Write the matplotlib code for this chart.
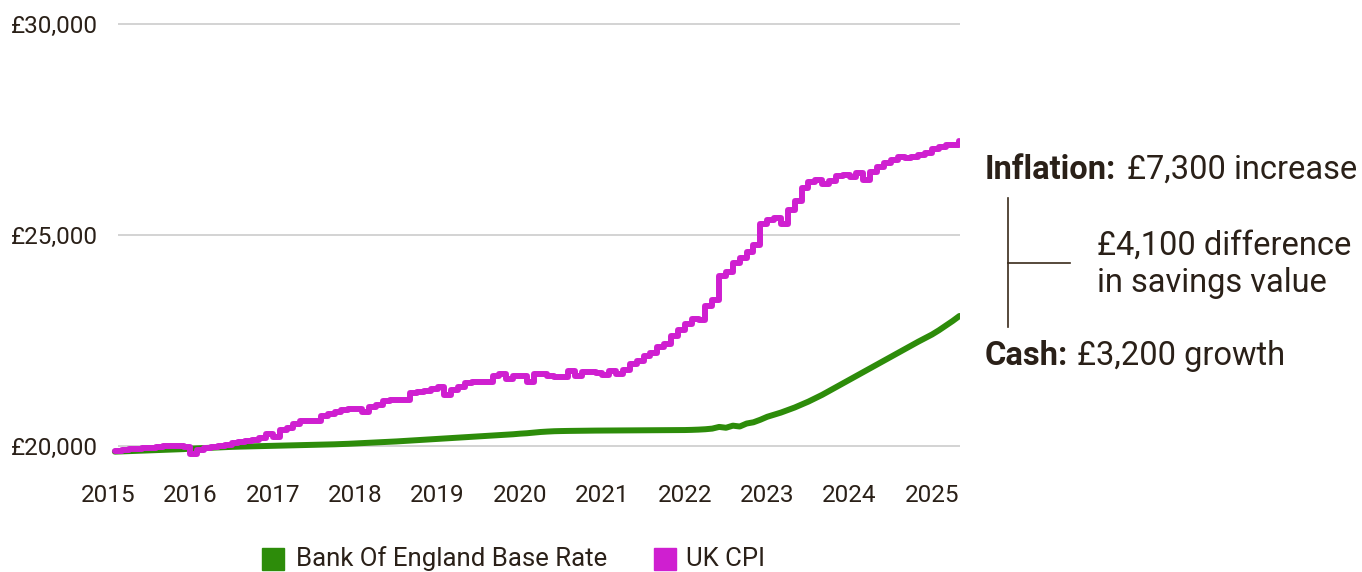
import matplotlib.pyplot as plt
from matplotlib.patches import Rectangle

plt.rcParams["font.family"] = ["Roboto", "DejaVu Sans"]

# monthly values, Feb 2015 .. May 2025
start_year = 2015
start_month = 2

cpi = [
    19880, 19905, 19929, 19929, 19953, 19953, 19976, 20000, 20000, 20000, 19976,
    19810, 19905, 19953, 19976, 20000, 20024, 20071, 20095, 20118, 20142, 20190, 20284,
    20213, 20379, 20427, 20521, 20592, 20592, 20592, 20711, 20758, 20806, 20853, 20877,
    20877, 20800, 20924, 20972, 21066, 21090, 21090, 21090, 21256, 21280, 21304, 21351,
    21398, 21209, 21327, 21398, 21493, 21517, 21517, 21517, 21659, 21706, 21588, 21659,
    21659, 21517, 21706, 21706, 21659, 21635, 21635, 21778, 21659, 21754, 21754, 21730,
    21683, 21778, 21706, 21801, 21943, 22015, 22133, 22204, 22346, 22417, 22607, 22749,
    22891, 23010, 22986, 23318, 23460, 24029, 24124, 24337, 24455, 24597, 24763, 25261,
    25356, 25403, 25261, 25593, 25806, 26114, 26256, 26304, 26209, 26280, 26399, 26422,
    26375, 26470, 26304, 26494, 26612, 26707, 26778, 26849, 26825, 26849, 26896, 26944,
    27039, 27086, 27133, 27133, 27228,
]

base_rate = [
    19864, 19870, 19876, 19882, 19888, 19894, 19900, 19906, 19912, 19918, 19924,
    19935, 19942, 19949, 19956, 19963, 19970, 19977, 19982, 19986, 19990, 19994, 19998,
    20002, 20006, 20010, 20014, 20018, 20022, 20026, 20030, 20034, 20038, 20044, 20050,
    20058, 20066, 20074, 20082, 20090, 20098, 20106, 20116, 20126, 20136, 20146, 20156,
    20166, 20176, 20186, 20196, 20206, 20216, 20226, 20236, 20246, 20256, 20266, 20276,
    20290, 20300, 20315, 20330, 20340, 20348, 20352, 20355, 20357, 20359, 20361, 20363,
    20364, 20365, 20366, 20367, 20368, 20369, 20370, 20371, 20372, 20373, 20374, 20375,
    20376, 20380, 20386, 20395, 20410, 20450, 20430, 20480, 20460, 20530, 20560, 20620,
    20690, 20740, 20790, 20850, 20910, 20980, 21050, 21130, 21210, 21300, 21390, 21480,
    21570, 21660, 21750, 21840, 21930, 22020, 22110, 22200, 22290, 22380, 22470, 22555,
    22640, 22740, 22850, 22960, 23080,
]

years = [2015, 2016, 2017, 2018, 2019, 2020, 2021, 2022, 2023, 2024, 2025]
yticks = [20000, 25000, 30000]
ytick_labels = ["£20,000", "£25,000", "£30,000"]

green = "#2d8c0a"
magenta = "#cf1fd0"
text_col = "#2a2018"

t = [start_year + (start_month - 1 + i) / 12 for i in range(len(cpi))]
t_base = [start_year + (start_month - 1 + i) / 12 for i in range(len(base_rate))]

W, H = 1362, 572
fig = plt.figure(figsize=(W / 100, H / 100), dpi=100)
ax = fig.add_axes([108 / W, 1 - 467 / H, (960 - 108) / W, (467 - 24) / H])

x0 = 2015 + 10 / 82.4
x1 = 2025 + (960 - 932) / 82.4
ax.set_xlim(2015, x1)
ax.set_ylim(19500, 30000)

ax.hlines(yticks, x0, x1, color="#cccccc", lw=1.2, zorder=1, clip_on=False)

ax.plot(t_base, base_rate, color=green, lw=4.3, solid_joinstyle="round",
        solid_capstyle="round", zorder=3)
ax.plot(t, cpi, color=magenta, lw=4.3, drawstyle="steps-post",
        solid_joinstyle="round", solid_capstyle="round", zorder=4)

ax.set_xticks(years)
ax.set_xticklabels([str(y) for y in years])
ax.set_yticks(yticks)
ax.set_yticklabels(ytick_labels)
ax.tick_params(axis="x", length=0, pad=12, labelsize=17.5, labelcolor=text_col)
ax.tick_params(axis="y", length=0, pad=7, labelsize=17.5, labelcolor=text_col)
for s in ax.spines.values():
    s.set_visible(False)


def fx(x):
    return x / W


def fy(y):
    return 1 - y / H


# right-hand annotation
fs = 23.5
fig.text(fx(985), fy(170), "Inflation:", fontsize=fs, fontweight="bold",
         color=text_col, va="center")
fig.text(fx(1127), fy(170), "£7,300 increase", fontsize=fs,
         color=text_col, va="center")
fig.text(fx(1097), fy(246), "£4,100 difference", fontsize=fs,
         color=text_col, va="center")
fig.text(fx(1097), fy(283), "in savings value", fontsize=fs,
         color=text_col, va="center")
fig.text(fx(985), fy(356), "Cash:", fontsize=fs, fontweight="bold",
         color=text_col, va="center")
fig.text(fx(1077), fy(356), "£3,200 growth", fontsize=fs,
         color=text_col, va="center")

fig.add_artist(plt.Line2D([fx(1008), fx(1008)], [fy(198), fy(327)],
                          color="#3a2a1a", lw=1.2))
fig.add_artist(plt.Line2D([fx(1008), fx(1070)], [fy(263), fy(263)],
                          color="#3a2a1a", lw=1.2))

# legend
fig.add_artist(Rectangle((fx(262), fy(570)), 22 / W, 22 / H,
                         transform=fig.transFigure, color=green))
fig.text(fx(296), fy(559), "Bank Of England Base Rate", fontsize=18.5,
         color=text_col, va="center")
fig.add_artist(Rectangle((fx(654), fy(570)), 22 / W, 22 / H,
                         transform=fig.transFigure, color=magenta))
fig.text(fx(686), fy(559), "UK CPI", fontsize=18.5,
         color=text_col, va="center")

fig.savefig("out.png", dpi=100)
